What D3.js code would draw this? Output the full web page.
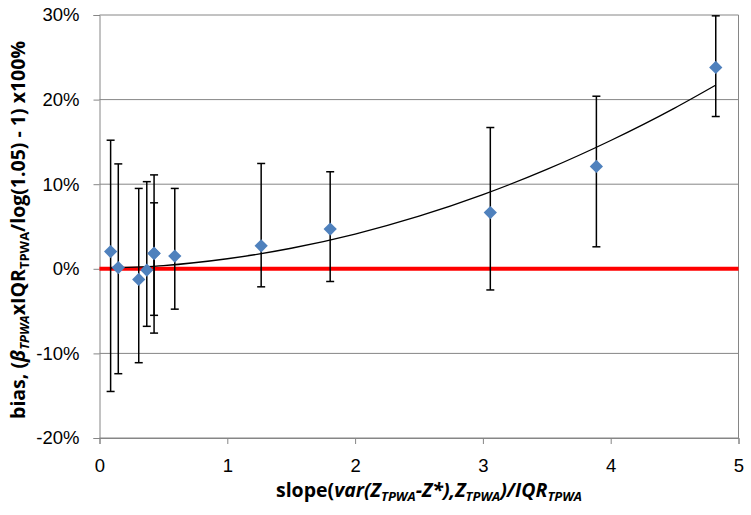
<!DOCTYPE html>
<html>
<head>
<meta charset="utf-8">
<script src="https://cdn.jsdelivr.net/npm/d3@7"></script>
<style>
  body { margin: 0; background: #fff; }
  svg { font-family: "Open Sans", sans-serif; }
  .tick text { font-size: 18.5px; fill: #000; }
  .axisTitle { font-weight: bold; font-size: 19.5px; fill: #000; }
</style>
</head>
<body>
<div class="chart"></div>
<script>
// bias vs slope scatter, with error bars and a trend line

var svgWidth = 751;
var svgHeight = 515;

var margin = { top: 15, right: 12.5, bottom: 77, left: 99.5 };
var width = svgWidth - margin.left - margin.right;
var height = svgHeight - margin.top - margin.bottom;

// data
var slopeX   = [0.087, 0.147, 0.307, 0.37, 0.427, 0.427, 0.589, 1.265, 1.805, 3.058, 3.888, 4.822];
var biasY    = [2.04, 0.15, -1.26, -0.15, 1.85, 1.8, 1.5, 2.72, 4.69, 6.65, 12.1, 23.8];
var errHigh  = [15.2, 12.4, 9.5, 10.3, 11.1, 7.8, 9.5, 12.45, 11.47, 16.7, 20.4, 29.9];
var errLow   = [-14.5, -12.4, -11.1, -6.8, -7.6, -5.5, -4.77, -2.13, -1.5, -2.5, 2.6, 18.0];

// trend line samples
var trendX = [0.09, 0.5, 1.0, 1.5, 2.0, 2.5, 3.0, 3.5, 4.0, 4.5, 4.82];
var trendY = [0.1, 0.38, 1.19, 2.43, 4.11, 6.22, 8.77, 11.75, 15.17, 19.0, 21.7];

var xTicks = [0, 1, 2, 3, 4, 5];
var yTicks = [-20, -10, 0, 10, 20, 30];

var points = slopeX.map(function(x, i) {
  return { x: x, y: biasY[i], hi: errHigh[i], lo: errLow[i] };
});
var trend = trendX.map(function(x, i) { return { x: x, y: trendY[i] }; });

var svg = d3.select(".chart")
  .append("svg")
  .attr("width", svgWidth)
  .attr("height", svgHeight);

var chartGroup = svg.append("g")
  .attr("transform", `translate(${margin.left}, ${margin.top})`);

var xLinearScale = d3.scaleLinear().domain([0, 5]).range([0, width]);
var yLinearScale = d3.scaleLinear().domain([-20, 30]).range([height, 0]);

var gridColor = "#868686";

// gridlines
chartGroup.selectAll(".grid")
  .data(yTicks)
  .enter()
  .append("line")
  .attr("x1", 0)
  .attr("x2", width)
  .attr("y1", d => yLinearScale(d))
  .attr("y2", d => yLinearScale(d))
  .attr("stroke", gridColor)
  .attr("stroke-width", 1);

// right border
chartGroup.append("line")
  .attr("x1", width).attr("x2", width)
  .attr("y1", 0).attr("y2", height)
  .attr("stroke", gridColor);

var bottomAxis = d3.axisBottom(xLinearScale).tickValues(xTicks).tickSize(6).tickPadding(15)
  .tickFormat(d3.format("d"));
var leftAxis = d3.axisLeft(yLinearScale).tickValues(yTicks).tickSize(6).tickPadding(14)
  .tickFormat(d => d + "%");

var xg = chartGroup.append("g")
  .attr("transform", `translate(0, ${height})`)
  .call(bottomAxis);
var yg = chartGroup.append("g")
  .call(leftAxis);

[xg, yg].forEach(function(g) {
  g.select(".domain").attr("stroke", gridColor);
  g.selectAll(".tick line").attr("stroke", gridColor);
  g.selectAll(".tick text").attr("fill", "#000");
});

// zero line
chartGroup.append("line")
  .attr("x1", 0)
  .attr("x2", width)
  .attr("y1", yLinearScale(0))
  .attr("y2", yLinearScale(0))
  .attr("stroke", "#ff0000")
  .attr("stroke-width", 4);

// trend line
var trendLine = d3.line()
  .x(d => xLinearScale(d.x))
  .y(d => yLinearScale(d.y))
  .curve(d3.curveMonotoneX);

chartGroup.append("path")
  .datum(trend)
  .attr("d", trendLine)
  .attr("fill", "none")
  .attr("stroke", "#000")
  .attr("stroke-width", 1.3);

// error bars
var capW = 4;
var errGroup = chartGroup.selectAll(".err")
  .data(points)
  .enter()
  .append("g")
  .attr("stroke", "#000")
  .attr("stroke-width", 1.5);

errGroup.append("line")
  .attr("x1", d => xLinearScale(d.x))
  .attr("x2", d => xLinearScale(d.x))
  .attr("y1", d => yLinearScale(d.lo))
  .attr("y2", d => yLinearScale(d.hi));
errGroup.append("line")
  .attr("x1", d => xLinearScale(d.x) - capW)
  .attr("x2", d => xLinearScale(d.x) + capW)
  .attr("y1", d => yLinearScale(d.hi))
  .attr("y2", d => yLinearScale(d.hi));
errGroup.append("line")
  .attr("x1", d => xLinearScale(d.x) - capW)
  .attr("x2", d => xLinearScale(d.x) + capW)
  .attr("y1", d => yLinearScale(d.lo))
  .attr("y2", d => yLinearScale(d.lo));

// diamonds
var diamond = d3.symbol().type(d3.symbolSquare).size(88);
chartGroup.selectAll(".pt")
  .data(points)
  .enter()
  .append("path")
  .attr("d", diamond)
  .attr("transform", d => `translate(${xLinearScale(d.x)}, ${yLinearScale(d.y)}) rotate(45)`)
  .attr("fill", "#4f81bd");

// axis titles with subscripts
function addParts(text, parts) {
  parts.forEach(function(p) {
    var ts = text.append("tspan").text(p.t);
    if (p.i) ts.attr("font-style", "italic");
    if (p.sub) ts.attr("font-size", "13px").attr("dy", 4);
    if (p.up) ts.attr("dy", -4);
  });
}

var xTitle = svg.append("text")
  .attr("class", "axisTitle")
  .attr("x", 429)
  .attr("y", 497)
  .attr("text-anchor", "middle");
addParts(xTitle, [
  { t: "slope(" },
  { t: "var(Z", i: true },
  { t: "TPWA", i: true, sub: true },
  { t: "-Z*),Z", i: true, up: true },
  { t: "TPWA", i: true, sub: true },
  { t: ")/IQR", i: true, up: true },
  { t: "TPWA", i: true, sub: true }
]);

var yTitle = svg.append("text")
  .attr("class", "axisTitle")
  .attr("transform", "rotate(-90)")
  .attr("x", -230)
  .attr("y", 25)
  .attr("text-anchor", "middle");
addParts(yTitle, [
  { t: "bias, (" },
  { t: "β", i: true },
  { t: "TPWA", i: true, sub: true },
  { t: "xIQR", up: true },
  { t: "TPWA", sub: true },
  { t: "/log(1.05) - 1) x100%", up: true }
]);
</script>
</body>
</html>
